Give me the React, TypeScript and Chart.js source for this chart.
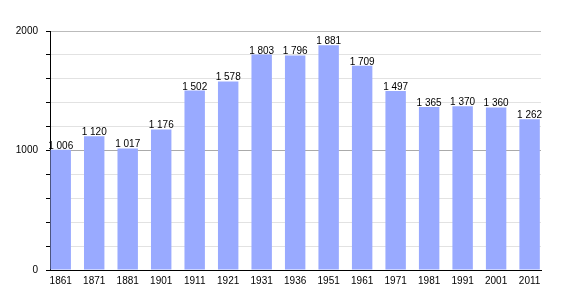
import React, { useEffect, useRef } from "react";
import { Chart, registerables } from "chart.js";

Chart.register(...registerables);

const years = ["1861", "1871", "1881", "1901", "1911", "1921", "1931", "1936", "1951", "1961", "1971", "1981", "1991", "2001", "2011"];
const population = [1006, 1120, 1017, 1176, 1502, 1578, 1803, 1796, 1881, 1709, 1497, 1365, 1370, 1360, 1262];
const yLabelValues = [0, 1000, 2000];

const FONT = "'Liberation Sans', Arial, sans-serif";

const fmt = (v: number) => {
  const th = Math.floor(v / 1000);
  const rest = String(v % 1000).padStart(3, "0");
  return th > 0 ? `${th} ${rest}` : String(v);
};

const valueLabels = {
  id: "valueLabels",
  afterDatasetsDraw(chart: any) {
    const ctx = chart.ctx;
    const meta = chart.getDatasetMeta(0);
    ctx.save();
    ctx.font = `10px ${FONT}`;
    ctx.fillStyle = "#000";
    ctx.textAlign = "center";
    ctx.textBaseline = "alphabetic";
    meta.data.forEach((el: any, i: number) => {
      ctx.fillText(fmt(population[i]), el.x, el.y - 1);
    });
    ctx.restore();
  },
};

export default function App() {
  const ref = useRef<HTMLCanvasElement>(null);
  useEffect(() => {
    if (!ref.current) return;
    const chart = new Chart(ref.current, {
      type: "bar",
      data: {
        datasets: [
          {
            data: population.map((v, i) => ({ x: i, y: v })),
            backgroundColor: "#99aaff",
            borderWidth: 0,
            categoryPercentage: 1,
            barPercentage: 0.61,
          },
        ],
      },
      options: {
        animation: false,
        responsive: false,
        maintainAspectRatio: false,
        layout: { padding: { left: 0, top: 31, right: 29, bottom: 0 } },
        plugins: { legend: { display: false }, tooltip: { enabled: false } },
        scales: {
          x: {
            type: "linear",
            offset: false,
            min: -0.32,
            max: 14.34,
            afterBuildTicks: (scale: any) => {
              scale.ticks = years.map((_, i) => ({ value: i }));
            },
            afterFit: (scale: any) => {
              scale.height = 30;
            },
            grid: { display: true, drawOnChartArea: false, drawTicks: false },
            border: { display: true, color: "#000", width: 1 },
            ticks: {
              autoSkip: false,
              maxRotation: 0,
              padding: 5,
              color: "#000",
              font: { family: FONT, size: 10 },
              callback: (v: any) => years[v as number] ?? "",
            },
          },
          y: {
            min: 0,
            max: 2000,
            afterFit: (scale: any) => {
              scale.width = 50;
            },
            ticks: {
              stepSize: 200,
              padding: 8,
              color: "#000",
              font: { family: FONT, size: 10 },
              callback: (v: any) => (yLabelValues.includes(v as number) ? String(v) : ""),
            },
            grid: {
              drawTicks: true,
              tickLength: 4,
              tickColor: "#000",
              color: (ctx: any) => {
                const v = ctx.tick?.value;
                if (v === 0) return "#000";
                if (v === 1000) return "#aaaaaa";
                if (v === 2000) return "#bbbbbb";
                return "#e2e2e2";
              },
            },
            border: { display: true, color: "#000", width: 1 },
          },
        },
      },
      plugins: [valueLabels],
    });
    return () => chart.destroy();
  }, []);
  return (
    <div style={{ position: "fixed", left: 0, top: 0, width: 570, height: 300, background: "#fff" }}>
      <canvas ref={ref} width={570} height={300} style={{ width: 570, height: 300 }} />
    </div>
  );
}
